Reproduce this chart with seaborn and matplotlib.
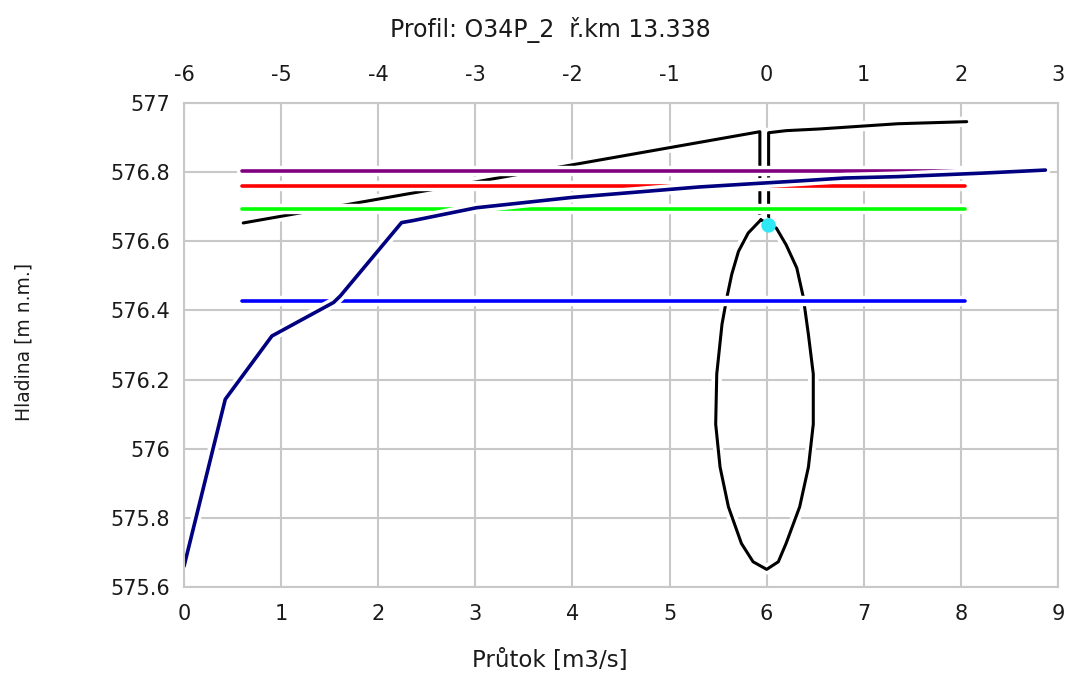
import matplotlib
matplotlib.use("Agg")
import numpy as np
import pandas as pd
import seaborn as sns
import matplotlib.pyplot as plt
import matplotlib.patheffects as pe

# Rating curve (navy) - discharge vs water level
flow_q = [0.0, 0.425, 0.905, 1.54, 1.61, 2.24, 2.36, 3.01, 4.0, 5.3, 5.88, 6.36, 6.8, 7.35, 8.21, 8.87]
flow_h = [575.66, 576.143, 576.326, 576.423, 576.442, 576.654, 576.66, 576.697, 576.727, 576.757,
          576.767, 576.775, 576.783, 576.787, 576.797, 576.806]

# Cross-section profile (black), left and right of the bridge
profile_left_x = [0.61, 5.93, 5.93]
profile_left_y = [576.653, 576.917, 576.662]
profile_right_x = [6.02, 6.02, 6.2, 6.55, 7.35, 8.06]
profile_right_y = [576.65, 576.914, 576.92, 576.925, 576.94, 576.946]

# Culvert opening (black closed shape)
culvert_x = [5.94, 5.81, 5.71, 5.64, 5.59, 5.54, 5.486, 5.475, 5.52, 5.606, 5.74, 5.86, 6.0,
             6.12, 6.2, 6.34, 6.43, 6.48, 6.48, 6.43, 6.376, 6.31, 6.2, 6.1, 5.94]
culvert_y = [576.662, 576.624, 576.571, 576.504, 576.437, 576.36, 576.216, 576.071, 575.947, 575.832,
             575.726, 575.673, 575.651, 575.673, 575.726, 575.832, 575.947, 576.071, 576.216, 576.33,
             576.44, 576.523, 576.59, 576.638, 576.662]

# Horizontal water levels
level_x = [0.6, 8.04]
level_values = [576.804, 576.759, 576.694, 576.427]
level_colors = ["#800080", "#ff0000", "#00ff00", "#0000ff"]

# Current point (cyan)
point_q = [6.02]
point_h = [576.646]

x_ticks = list(range(0, 10))
top_ticks = list(range(-6, 4))
y_ticks = [575.6, 575.8, 576.0, 576.2, 576.4, 576.6, 576.8, 577.0]
y_labels = ["575.6", "575.8", "576", "576.2", "576.4", "576.6", "576.8", "577"]

sns.set_theme(style="white")
plt.rcParams["font.family"] = ["DejaVu Sans"]

fig = plt.figure(figsize=(10.66, 6.75), dpi=100)
ax = fig.add_axes([184 / 1066, 88 / 675, 874 / 1066, 484 / 675])

grid_col = "#c8c8c8"
text_col = "#1a1a1a"
halo = [pe.withStroke(linewidth=7.5, foreground="white")]
lw = 2.2

ax.set_xlim(0, 9)
ax.set_ylim(575.6, 577.0)
ax.set_xticks(x_ticks)
ax.set_xticklabels([str(t) for t in x_ticks])
ax.set_yticks(y_ticks)
ax.set_yticklabels(y_labels)
ax.grid(True, color=grid_col, linewidth=1.5)
ax.set_axisbelow(True)
for s in ax.spines.values():
    s.set_color(grid_col)
    s.set_linewidth(1.5)
ax.tick_params(axis="x", length=0, pad=12, labelsize=15, colors=text_col)
ax.tick_params(axis="y", length=0, pad=10, labelsize=15, colors=text_col)

# profile + culvert first, water levels on top (their halos cut the black lines)
sns.lineplot(x=profile_left_x, y=profile_left_y, sort=False, estimator=None, color="black",
             linewidth=lw, path_effects=halo, ax=ax)
sns.lineplot(x=profile_right_x, y=profile_right_y, sort=False, estimator=None, color="black",
             linewidth=lw, path_effects=halo, ax=ax)
sns.lineplot(x=culvert_x, y=culvert_y, sort=False, estimator=None, color="black",
             linewidth=lw, path_effects=halo, ax=ax)

for val, col in zip(level_values, level_colors):
    sns.lineplot(x=level_x, y=[val, val], sort=False, estimator=None, color=col,
                 linewidth=lw + 0.4, path_effects=halo, ax=ax)

sns.lineplot(x=flow_q, y=flow_h, sort=False, estimator=None, color="#000080",
             linewidth=lw + 0.4, path_effects=halo, ax=ax)

sns.scatterplot(x=point_q, y=point_h, color="#2ee8f5", s=110, edgecolor="none", zorder=5, ax=ax)

# top axis: station relative to the bridge
top = ax.secondary_xaxis("top", functions=(lambda x: x - 6, lambda x: x + 6))
top.set_xticks(top_ticks)
top.set_xticklabels([str(t) for t in top_ticks])
top.tick_params(axis="x", length=0, pad=13, labelsize=15, colors=text_col)
for s in top.spines.values():
    s.set_visible(False)

fig.text(550 / 1066, 1 - 30 / 675, "Profil: O34P_2  \u0159.km 13.338", ha="center", va="center",
         fontsize=17, color=text_col)
fig.text(550 / 1066, 1 - 660 / 675, "Pr\u016ftok [m3/s]", ha="center", va="center",
         fontsize=16.5, color=text_col)
fig.text(24 / 1066, 1 - 342 / 675, "Hladina [m n.m.]", ha="center", va="center", rotation=90,
         fontsize=13.5, color=text_col)

plt.savefig("out.png", dpi=100)
